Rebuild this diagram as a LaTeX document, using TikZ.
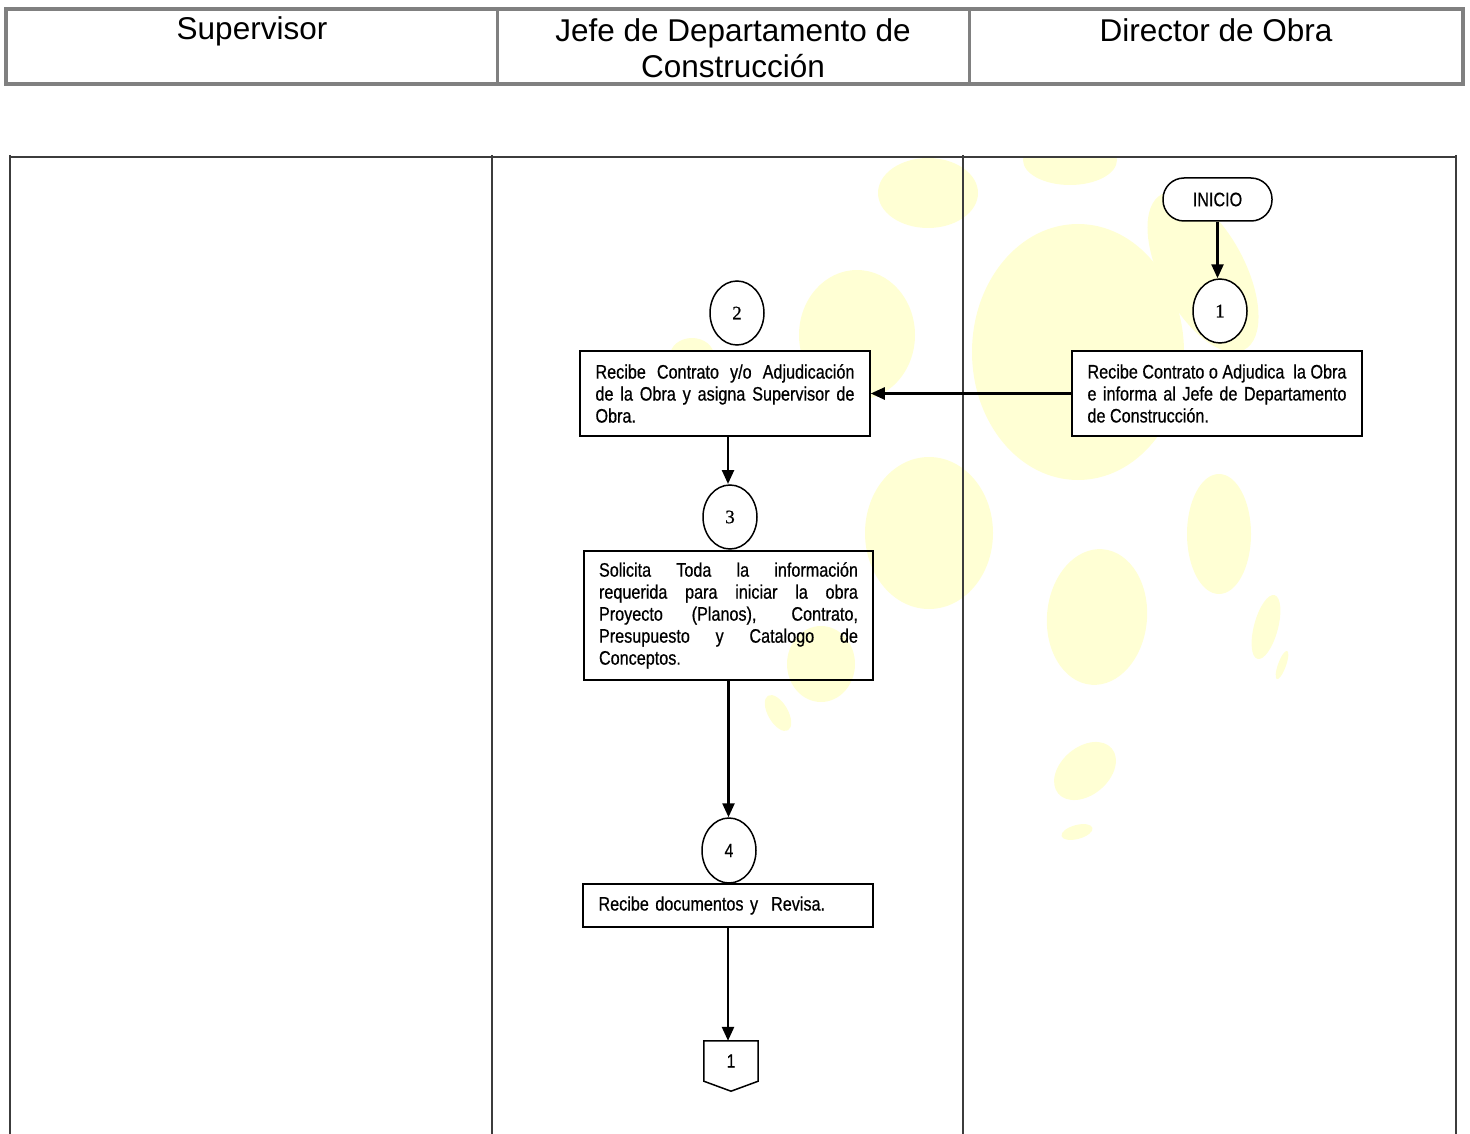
\documentclass[tikz,border=0pt]{standalone}
\usepackage{fontspec}
\setmainfont{Liberation Sans}
\newfontfamily\narrowfont[FakeStretch=0.83,FakeBold=0.6]{Liberation Sans}
\newfontfamily\numfont[FakeBold=0.6]{Liberation Serif}
\usetikzlibrary{arrows.meta,calc,shapes.geometric}
\definecolor{wm}{RGB}{255,255,212}
\definecolor{hdr}{RGB}{128,128,128}
\definecolor{rule}{RGB}{60,60,60}

\begin{document}
\begin{tikzpicture}[x=1pt,y=-1pt,
  blob/.style={fill=wm},
  proc/.style={draw,line width=1.5pt,fill=white,minimum width=290pt,text width=259pt,
    align=justify,inner sep=0pt,font=\narrowfont\fontsize{19.5}{22}\selectfont},
  conn/.style={draw,ellipse,line width=1.5pt,fill=white,minimum width=54pt,
    minimum height=64pt,inner sep=0pt,font=\numfont\fontsize{19}{22}\selectfont},
  flow/.style={line width=2.5pt,-{Triangle[width=12pt,length=14pt]}},
  head/.style={font=\fontsize{31.5}{36}\selectfont,align=center,inner sep=0pt},
  lane/.style={line width=2pt,draw=rule},
]
\useasboundingbox (0,0) rectangle (1470,1134);

% header row
\draw[line width=4pt,draw=hdr] (6,9) rectangle (1463,84);
\draw[line width=3pt,draw=hdr] (497,9) -- (497,84) (969,9) -- (969,84);
\node[head] (hsup) at (252,31) {Supervisor};
\node[head] (hjefe) at (733,48) {Jefe de Departamento de\\Construcción};
\node[head] (hdir) at (1216,30) {Director de Obra};

% watermark
\begin{scope}
  \clip (10,157) rectangle (1456,1134);
  \fill[blob] (928,193) ellipse [x radius=50, y radius=35];
  \fill[blob] (1070,160) ellipse [x radius=47, y radius=25];
  \fill[blob] (1078,352) ellipse [x radius=106, y radius=128];
  \fill[blob, rotate around={28:(1203,272)}] (1203,272) ellipse [x radius=42, y radius=88];
  \fill[blob] (857,335) ellipse [x radius=58, y radius=65];
  \fill[blob] (692,356) ellipse [x radius=22, y radius=18];
  \fill[blob] (929,533) ellipse [x radius=64, y radius=76];
  \fill[blob] (821,664) ellipse [x radius=34, y radius=38];
  \fill[blob, rotate around={30:(778,713)}] (778,713) ellipse [x radius=10, y radius=20];
  \fill[blob] (1219,534) ellipse [x radius=32, y radius=60];
  \fill[blob, rotate around={-5:(1097,617)}] (1097,617) ellipse [x radius=50, y radius=68];
  \fill[blob, rotate around={-15:(1266,627)}] (1266,627) ellipse [x radius=12, y radius=33];
  \fill[blob, rotate around={-20:(1282,665)}] (1282,665) ellipse [x radius=4, y radius=15];
  \fill[blob, rotate around={-50:(1085,771)}] (1085,771) ellipse [x radius=24, y radius=35];
  \fill[blob, rotate around={15:(1077,832)}] (1077,832) ellipse [x radius=16, y radius=7];
\end{scope}

% swimlanes
\draw[lane] (10,157) -- (1456,157);
\draw[lane] (10,155) -- (10,1134) (492,155) -- (492,1134)
            (963,155) -- (963,1134) (1456,155) -- (1456,1134);

% Director de Obra
\node[draw,line width=1.5pt,fill=white,rounded corners=21pt,minimum width=109pt,
      minimum height=43pt,inner sep=0pt,font=\narrowfont\fontsize{19.5}{22}\selectfont]
      (inicio) at (1217.5,199.5) {INICIO};
\node[conn] (c1) at (1220,311) {1};
\node[proc,minimum height=85pt] (p1) at (1217,393.5)
  {Recibe Contrato o Adjudica\ \ la Obra\linebreak e informa al Jefe de Departamento\linebreak de Construcción.};

% Jefe de Departamento de Construccion
\node[conn] (c2) at (737,313) {2};
\node[proc,minimum height=85pt] (p2) at (725,393.5)
  {Recibe Contrato y/o Adjudicación\linebreak de la Obra y asigna Supervisor de\linebreak Obra.};
\node[conn] (c3) at (730,517) {3};
\node[proc,fill=none,minimum height=129pt,minimum width=289pt] (p3) at (728.5,615.5)
  {Solicita Toda la información\linebreak requerida para iniciar la obra\linebreak
   Proyecto (Planos), Contrato,\linebreak Presupuesto y Catalogo de\linebreak Conceptos.};
\node[conn,font=\narrowfont\fontsize{19}{22}\selectfont,minimum height=65pt] (c4) at (729,850.5) {4};
\node[proc,align=left,minimum height=43pt] (p4) at (728,905.5)
  {Recibe documentos y\ \ Revisa.};

% off-page connector
\node[inner sep=0pt,minimum width=54pt,minimum height=40pt,
      font=\narrowfont\fontsize{19}{22}\selectfont] (off) at (731,1061) {1};
\draw[line width=1.5pt] (off.north west) -- (off.north east) -- (off.south east)
  -- ($(off.south)+(0,10)$) -- (off.south west) -- cycle;

% connectors
\draw[flow] (inicio.south) -- (inicio.south |- c1.north);
\draw[flow] (p1.west) -- (p2.east);
\draw[flow] (728,436) -- (728,484);
\draw[flow] (p3.south) -- (p3.south |- c4.north);
\draw[flow] (p4.south) -- (p4.south |- off.north);
\end{tikzpicture}
\end{document}
